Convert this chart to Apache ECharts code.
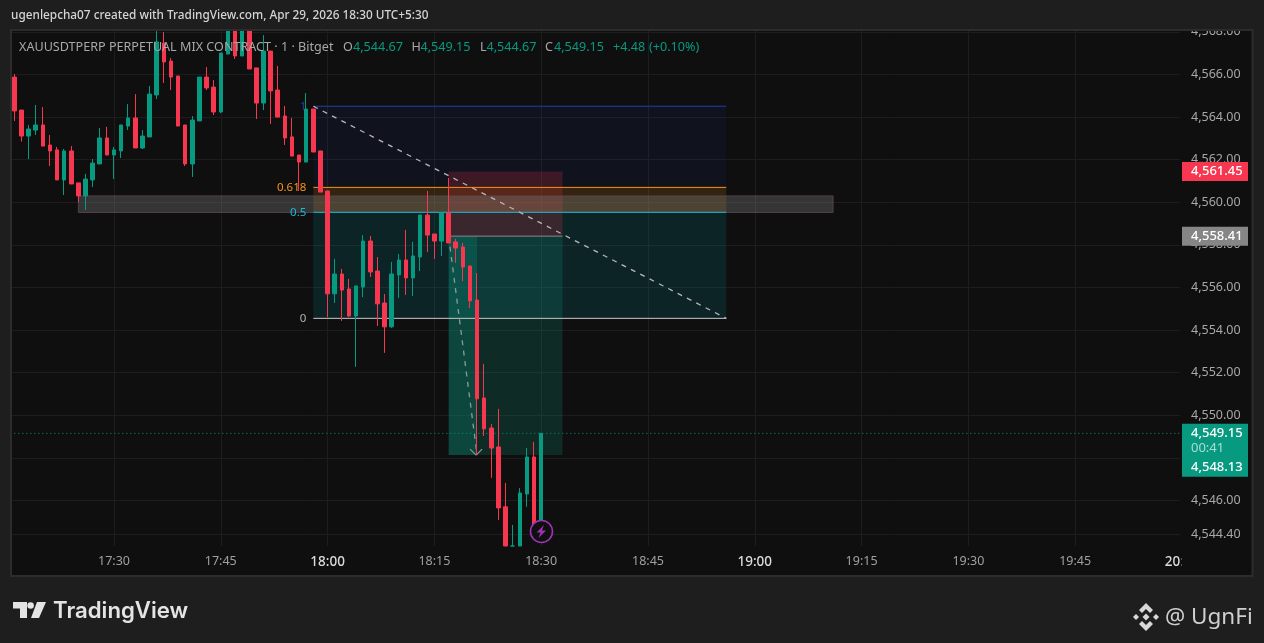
<!DOCTYPE html>
<html><head><meta charset="utf-8">
<style>html,body{margin:0;padding:0;background:#1e1e1e}#c{width:1264px;height:643px}</style>
<script src="https://cdn.jsdelivr.net/npm/echarts@6/dist/echarts.min.js"></script>
</head><body><div id="c"></div>
<script>
// ---- data ----
const opens = [4565.88,4564.33,4563.11,4563.39,4563.63,4562.69,4562.46,4561.05,4562.41,4560.91,
4560.30,4561.05,4561.80,4563.02,4562.22,4562.41,4563.58,4563.96,4562.55,4563.07,
4565.04,4567.48,4566.63,4565.93,4563.63,4561.80,4563.82,4565.88,4565.41,4564.24,
4566.96,4569.00,4566.87,4569.20,4566.31,4564.66,4567.10,4565.27,4564.05,4563.07,
4562.22,4561.89,4564.38,4562.41,4560.53,4555.70,4556.63,4555.93,4554.66,4556.02,
4558.18,4556.77,4555.27,4554.15,4556.59,4557.29,4556.45,4557.43,4559.40,4558.51,
4558.18,4559.50,4558.14,4557.90,4557.01,4555.41,4550.81,4549.40,4548.51,4545.70,
4543.86,4543.86,4546.30,4548.04,4544.67];
const closes = [4564.29,4563.11,4563.44,4563.63,4562.64,4562.41,4561.05,4562.41,4560.86,4560.30,
4561.09,4561.84,4563.02,4562.22,4562.46,4563.63,4563.96,4562.55,4563.11,4565.08,
4567.53,4566.59,4565.88,4563.58,4561.80,4563.86,4565.88,4565.37,4564.24,4567.01,
4569.00,4566.87,4569.20,4566.26,4564.66,4567.10,4565.23,4564.00,4563.02,4562.17,
4561.89,4564.38,4562.36,4560.48,4555.70,4556.63,4555.88,4554.66,4556.07,4558.18,
4556.73,4555.23,4554.15,4556.63,4557.29,4556.45,4557.48,4559.40,4558.46,4558.18,
4559.50,4558.09,4557.85,4556.96,4555.37,4550.77,4549.36,4548.46,4545.65,4543.86,
4543.86,4546.35,4548.04,4544.67,4549.15];
const lows = [4563.82,4562.85,4562.03,4563.16,4562.64,4561.70,4561.05,4560.34,4560.86,4560.01,
4559.64,4560.72,4561.80,4562.22,4561.09,4562.08,4563.39,4562.55,4562.50,4563.07,
4564.85,4565.60,4565.27,4563.58,4561.70,4561.19,4563.82,4565.27,4564.10,4564.19,
4566.96,4566.73,4566.87,4566.26,4563.91,4564.33,4563.68,4564.00,4562.69,4562.17,
4560.53,4561.89,4562.36,4560.48,4554.61,4555.27,4554.43,4554.61,4552.27,4555.55,
4556.49,4554.19,4552.93,4554.10,4555.51,4555.65,4555.60,4556.77,4557.67,4557.34,
4557.48,4558.09,4557.15,4556.30,4555.04,4548.14,4549.03,4547.06,4545.08,4543.86,
4543.86,4543.86,4545.70,4544.67,4544.67];
const highs = [4566.02,4564.33,4563.63,4564.57,4564.47,4563.16,4562.60,4562.50,4562.64,4560.91,
4561.33,4562.03,4563.49,4563.54,4562.60,4563.63,4564.61,4565.08,4563.39,4565.46,
4568.04,4567.99,4566.77,4565.93,4563.63,4564.05,4565.88,4566.35,4565.74,4567.01,
4569.20,4569.10,4569.30,4569.30,4566.31,4567.85,4567.10,4566.40,4564.52,4563.96,
4562.22,4565.13,4564.38,4562.41,4560.53,4557.34,4556.87,4556.40,4556.07,4558.46,
4558.42,4557.43,4555.69,4557.20,4557.57,4558.70,4558.14,4559.40,4560.53,4558.51,
4559.50,4561.14,4558.28,4558.09,4557.01,4556.68,4552.41,4549.59,4550.30,4546.82,
4544.85,4546.58,4548.46,4548.75,4549.15];
const priceTicks = [4544.40,4546,4548,4550,4552,4554,4556,4558,4560,4562,4564,4566,4568];
const sessionStartMinute = 17*60+16, axisMinutes = 165;
const minuteLabels = [];
for (let i=0;i<axisMinutes;i++){const m=sessionStartMinute+i;
  minuteLabels.push(String(Math.floor(m/60))+':'+String(m%60).padStart(2,'0'));}

// drawing tools, in chart time (HH:MM) and price
const fibStart='17:58', fibEnd='18:56';
const fibLevels=[4564.51,4560.70,4559.53,4554.55];
const fibNames=['1','0.618','0.5','0'];
const posStart='18:17', posEnd='18:33', posProgress='18:21';
const posStop=4561.45, posEntry=4558.41, posTarget=4548.13;
const zoneStart='17:25', zoneEnd='19:11', zoneTop=4560.30, zoneBottom=4559.52;
const lastPrice=4549.15;
const priceTags=[4561.45,4558.41,4549.15];

// ---- styling ----
const UP='#089981', DOWN='#f7374f', FONT='"Noto Sans",sans-serif';
const PANE='#0f0f0f', BG='#1e1e1e';
const fmt=v=>v.toLocaleString('en-US',{minimumFractionDigits:2,maximumFractionDigits:2});
const isQuarter=(i)=>{const m=(sessionStartMinute+i)%60;return m%15===0;};
const fibLine=['#1f3fa8','#f7931a','#16b9cf','#c8c8c8'];
const fibText=['#1f3fa8','#f7931a','#16b9cf','#b2b2b2'];
const fibFill=['rgba(41,70,200,0.08)','rgba(245,140,20,0.16)','rgba(0,188,212,0.12)'];

const rects=[
 {a:fibStart,b:fibEnd,t:fibLevels[0],u:fibLevels[1],f:fibFill[0]},
 {a:fibStart,b:fibEnd,t:fibLevels[1],u:fibLevels[2],f:fibFill[1]},
 {a:fibStart,b:fibEnd,t:fibLevels[2],u:fibLevels[3],f:fibFill[2]},
 {a:posStart,b:posEnd,t:posStop,u:posEntry,f:'rgba(242,54,69,0.20)'},
 {a:posStart,b:posEnd,t:posEntry,u:posTarget,f:'rgba(8,153,129,0.20)'},
 {a:posStart,b:posProgress,t:posEntry,u:posTarget,f:'rgba(8,153,129,0.25)'},
 {a:zoneStart,b:zoneEnd,t:zoneTop,u:zoneBottom,f:'rgba(130,130,130,0.34)',s:'rgba(90,70,90,0.8)'}
];
const segs=[
 {a:fibStart,p:fibLevels[0],b:fibEnd,q:fibLevels[0],c:fibLine[0]},
 {a:fibStart,p:fibLevels[1],b:fibEnd,q:fibLevels[1],c:fibLine[1]},
 {a:fibStart,p:fibLevels[2],b:fibEnd,q:fibLevels[2],c:fibLine[2]},
 {a:fibStart,p:fibLevels[3],b:fibEnd,q:fibLevels[3],c:fibLine[3]},
 {a:fibStart,p:fibLevels[0],b:fibEnd,q:fibLevels[3],c:'#b8b8b8',d:[5,5.5],w:1.3},
 {a:posStart,p:posEntry,b:posEnd,q:posEntry,c:'#8a8a8a'},
 {a:posStart,p:posEntry,b:posProgress,q:posTarget,c:'#8f9a98',d:[5,5.5],w:1.3,arrow:true},
 {a:minuteLabels[0],p:lastPrice,b:minuteLabels[axisMinutes-1],q:lastPrice,c:UP,d:[1,3]}
];

function overlayItem(params,api){
  const children=[];
  rects.forEach(r=>{
    const p=api.coord([r.a,r.t]),q=api.coord([r.b,r.u]);
    children.push({type:'rect',shape:{x:p[0],y:p[1],width:q[0]-p[0],height:q[1]-p[1]},
      style:{fill:r.f,stroke:r.s||null,lineWidth:1}});
  });
  segs.forEach(s=>{
    const p=api.coord([s.a,s.p]),q=api.coord([s.b,s.q]);
    children.push({type:'line',shape:{x1:p[0],y1:p[1],x2:q[0],y2:q[1]},
      style:{stroke:s.c,lineWidth:s.w||1,lineDash:s.d||null}});
    if(s.arrow){
      [[-6,-6],[6,-6]].forEach(o=>children.push({type:'line',
        shape:{x1:q[0]-1,y1:q[1],x2:q[0]-1+o[0],y2:q[1]+o[1]},style:{stroke:s.c,lineWidth:1.2}}));
    }
  });
  fibLevels.forEach((lv,i)=>{
    const p=api.coord([fibStart,lv]);
    children.push({type:'text',x:p[0]-7,y:p[1],style:{text:fibNames[i],fill:fibText[i],
      font:'11.5px '+FONT,align:'right',verticalAlign:'middle'}});
  });
  return {type:'group',children};
}

function tagItem(params,api){
  const price=api.value(0), y=api.coord([0,price])[1], i=params.dataIndex;
  const X=1182,W=66, kids=[];
  const label=(t,yy,col,w)=>({type:'text',x:X+9,y:yy,style:{text:t,fill:col,font:(w||'500')+' 13px '+FONT,align:'left',verticalAlign:'middle'}});
  if(i===0){kids.push({type:'rect',shape:{x:X,y:y-9.5,width:W,height:19},style:{fill:DOWN}});kids.push(label(fmt(price),y,'#fff'));}
  if(i===1){kids.push({type:'rect',shape:{x:X,y:y-9.5,width:W,height:19},style:{fill:'#868686'}});kids.push(label(fmt(price),y,'#fff'));}
  if(i===2){kids.push({type:'rect',shape:{x:X,y:y-9.5,width:W,height:53},style:{fill:UP}});
    kids.push(label(fmt(price),y,'#fff'));
    kids.push(label('00:41',y+14.5,'rgba(255,255,255,0.65)','400'));
    kids.push(label(fmt(posTarget),y+33.5,'#fff'));}
  return {type:'group',children:kids};
}

const T=(text,x,y,fill,font,z,align)=>({type:'text',x,y,z:z||60,style:{text,fill,font,align:align||'left',verticalAlign:'middle'}});
const R=(x,y,w,h,fill,z,stroke,lw)=>({type:'rect',z,shape:{x,y,width:w,height:h},style:{fill,stroke:stroke||null,lineWidth:lw||0}});
const P=(pts,fill,z)=>({type:'polygon',z:z||60,shape:{points:pts},style:{fill}});
const legendFont='12.6px '+FONT;
const graphicEls=[
  R(11,29,1242,548,PANE,-1),
  R(0,0,1264,29.5,BG,50),
  R(1180,30,10,516,PANE,50),
  R(1181.5,546,70,29,PANE,50),
  {type:'rect',z:51,shape:{x:11,y:30,width:1241.5,height:546},style:{fill:'none',stroke:'#2c2c2c',lineWidth:2}},
  T('ugenlepcha07 created with TradingView.com, Apr 29, 2026 18:30 UTC+5:30',11,16,'#d4d4d4','500 11.8px '+FONT),
  T('XAUUSDTPERP PERPETUAL MIX CONTRACT · 1 · Bitget',19,47,'#a8a8a8',legendFont),
  T('O',343,47,'#a8a8a8',legendFont),T('4,544.67',353,47,UP,legendFont),
  T('H',411.5,47,'#a8a8a8',legendFont),T('4,549.15',420.5,47,UP,legendFont),
  T('L',480,47,'#a8a8a8',legendFont),T('4,544.67',486.5,47,UP,legendFont),
  T('C',545,47,'#a8a8a8',legendFont),T('4,549.15',554,47,UP,legendFont),
  T('+4.48',613,47,UP,legendFont),T('(+0.10%)',649,47,UP,legendFont),
  // TradingView logo
  P([[13,602],[27,602],[27,618],[20,618],[20,608.5],[13,608.5]],'#e4e4e4'),
  {type:'circle',z:60,shape:{cx:30.6,cy:605.5,r:3.3},style:{fill:'#e4e4e4'}},
  P([[37,602],[46,602],[39,618],[31,618]],'#e4e4e4'),
  T('TradingView',53,611,'#e4e4e4','600 22.2px Inter,'+FONT),
  // Binance logo and handle
  P([[1146,603],[1153,610],[1150,613],[1146,609],[1142,613],[1139,610]],'#d8d8d8'),
  P([[1146,631],[1153,624],[1150,621],[1146,625],[1142,621],[1139,624]],'#d8d8d8'),
  P([[1146,613.5],[1149.5,617],[1146,620.5],[1142.5,617]],'#d8d8d8'),
  P([[1136,614],[1139,617],[1136,620],[1133,617]],'#d8d8d8'),
  P([[1156,614],[1159,617],[1156,620],[1153,617]],'#d8d8d8'),
  T('@ UgnFi',1165,618,'#cfcfcf','400 22.5px '+FONT),
  // alert bolt
  {type:'circle',z:60,shape:{cx:541.5,cy:531.5,r:11},style:{fill:PANE,stroke:'#9c32b4',lineWidth:1.6}},
  P([[544,525],[536.5,532.5],[540.5,532.5],[538.5,538],[546,530.5],[542,530.5]],'#9c32b4')
];

const chart=echarts.init(document.getElementById('c'),null,{renderer:'canvas'});
chart.setOption({
  animation:false,backgroundColor:BG,
  textStyle:{fontFamily:FONT},
  grid:{left:10.74,width:1174.8,top:30,height:516},
  xAxis:{type:'category',data:minuteLabels,boundaryGap:true,
    axisLine:{show:false},
    axisTick:{show:false,alignWithLabel:true,interval:isQuarter},
    splitLine:{show:true,alignWithLabel:true,interval:isQuarter,lineStyle:{color:'#1d1d1d',width:1}},
    axisLabel:{interval:isQuarter,margin:9,fontSize:12.5,color:'#a0a0a0',fontFamily:FONT,
      formatter:v=>v.endsWith(':00')?'{h|'+v+'}':v,
      rich:{h:{color:'#dcdcdc',fontSize:13.5,fontWeight:500,fontFamily:FONT}}}},
  yAxis:{type:'value',position:'right',scale:true,min:4543.86,max:4568.09,
    axisLine:{show:false},
    axisTick:{show:false,customValues:priceTicks},
    splitLine:{show:true,lineStyle:{color:'#1d1d1d',width:1}},
    axisLabel:{customValues:priceTicks,margin:5.5,fontSize:12.5,color:'#a8a8a8',fontFamily:FONT,
      hideOverlap:false,showMinLabel:true,showMaxLabel:true,formatter:v=>fmt(v)}},
  series:[
    {type:'custom',name:'drawings',z:1,clip:true,silent:true,data:[[0]],encode:{x:0,y:0},renderItem:overlayItem},
    {type:'candlestick',name:'XAUUSDTPERP',z:3,barWidth:4,
     data:opens.map((o,i)=>[o,closes[i],lows[i],highs[i]]),
     itemStyle:{color:UP,color0:DOWN,borderColor:UP,borderColor0:DOWN,borderWidth:1}},
    {type:'custom',name:'tags',z:70,clip:false,silent:true,data:priceTags.map(p=>[p]),encode:{y:0},renderItem:tagItem}
  ],
  graphic:{elements:graphicEls}
});
</script></body></html>
